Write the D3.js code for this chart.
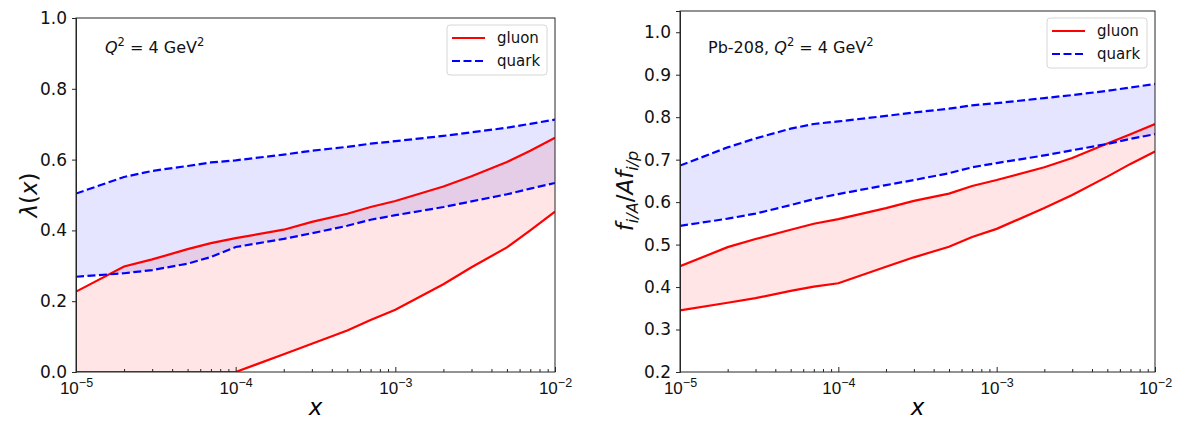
<!DOCTYPE html>
<html>
<head>
<meta charset="utf-8">
<script src="https://cdn.jsdelivr.net/npm/d3@7"></script>
<style>
	body { margin: 0; background: #fff; }
	svg { display: block; font-family: "DejaVu Sans", sans-serif; }
	.axis path, .axis line { stroke: #262626; stroke-width: 1; }
	.axis text { fill: #111; }
</style>
</head>
<body>
<script>
// x grid shared by every curve
const xGrid = [1e-5, 2e-5, 3e-5, 5e-5, 7e-5, 1e-4, 2e-4, 3e-4, 5e-4, 7e-4, 1e-3, 2e-3, 3e-3, 5e-3, 7e-3, 1e-2];

// left panel: lambda(x)
const lamQuarkUpper = [0.504, 0.551, 0.568, 0.582, 0.592, 0.598, 0.614, 0.625, 0.636, 0.645, 0.652, 0.667, 0.677, 0.690, 0.701, 0.713];
const lamQuarkLower = [0.269, 0.279, 0.288, 0.306, 0.325, 0.353, 0.376, 0.392, 0.413, 0.430, 0.443, 0.466, 0.482, 0.502, 0.518, 0.534];
const lamGluonUpper = [0.227, 0.298, 0.318, 0.347, 0.364, 0.378, 0.402, 0.424, 0.447, 0.466, 0.483, 0.524, 0.553, 0.593, 0.625, 0.662];
const lamGluonLower = [0, 0, 0, 0, 0, 0, 0.050, 0.080, 0.117, 0.147, 0.176, 0.248, 0.296, 0.352, 0.400, 0.453];

// right panel: Pb-208 ratio
const pbQuarkUpper = [0.686, 0.729, 0.750, 0.773, 0.784, 0.790, 0.803, 0.811, 0.820, 0.828, 0.833, 0.845, 0.852, 0.862, 0.870, 0.878];
const pbQuarkLower = [0.544, 0.561, 0.573, 0.593, 0.607, 0.619, 0.640, 0.652, 0.668, 0.682, 0.692, 0.710, 0.722, 0.737, 0.749, 0.760];
const pbGluonUpper = [0.449, 0.494, 0.513, 0.535, 0.549, 0.560, 0.586, 0.603, 0.620, 0.638, 0.652, 0.682, 0.704, 0.738, 0.760, 0.784];
const pbGluonLower = [0.345, 0.363, 0.374, 0.391, 0.401, 0.409, 0.448, 0.470, 0.495, 0.518, 0.537, 0.586, 0.617, 0.660, 0.690, 0.719];

const xMajor = [1e-5, 1e-4, 1e-3, 1e-2];
const xExp = ["5", "4", "3", "2"];
const lamTicks = [0, 0.2, 0.4, 0.6, 0.8, 1.0];
const pbTicks = [0.2, 0.3, 0.4, 0.5, 0.6, 0.7, 0.8, 0.9, 1.0];
const legendLabels = ["gluon", "quark"];

const svg = d3.select("body").append("svg")
	.attr("width", 1177)
	.attr("height", 421);

function panel(opts) {
	let x = d3.scaleLog().domain([1e-5, 1e-2]).range([opts.left, opts.right]);
	let y = d3.scaleLinear().domain(opts.yDomain).range([opts.bottom, opts.top]);

	let clipId = "clip-" + opts.id;
	svg.append("clipPath").attr("id", clipId)
		.append("rect")
			.attr("x", opts.left).attr("y", opts.top)
			.attr("width", opts.right - opts.left).attr("height", opts.bottom - opts.top);

	let g = svg.append("g").attr("clip-path", `url(#${clipId})`);

	let band = (lo, hi) => d3.area()
		.x((d, i) => x(xGrid[i]))
		.y0((d, i) => y(lo[i]))
		.y1((d, i) => y(hi[i]))(xGrid);

	let line = vals => d3.line()
		.x((d, i) => x(xGrid[i]))
		.y((d, i) => y(vals[i]))(xGrid);

	g.append("path").attr("d", band(opts.gluon[0], opts.gluon[1]))
		.attr("fill", "#ff0000").attr("fill-opacity", 0.1);
	g.append("path").attr("d", band(opts.quark[0], opts.quark[1]))
		.attr("fill", "#0000ff").attr("fill-opacity", 0.1);

	opts.gluon.forEach(vals => {
		g.append("path").attr("d", line(vals))
			.attr("fill", "none").attr("stroke", "#ff0000").attr("stroke-width", 2.2);
	});
	opts.quark.forEach(vals => {
		g.append("path").attr("d", line(vals))
			.attr("fill", "none").attr("stroke", "#0000ff").attr("stroke-width", 2.2)
			.attr("stroke-dasharray", "8,3.5");
	});

	// frame
	svg.append("rect")
		.attr("x", opts.left).attr("y", opts.top)
		.attr("width", opts.right - opts.left).attr("height", opts.bottom - opts.top)
		.attr("fill", "none").attr("stroke", "#262626").attr("stroke-width", 1);

	// y axis
	svg.append("g")
		.attr("class", "axis y")
		.attr("transform", `translate(${opts.left},0)`)
		.call(d3.axisLeft(y).tickValues(opts.yTicks).tickSize(4).tickPadding(5).tickFormat(d3.format(".1f")))
		.call(s => s.selectAll("text").attr("font-size", 17).attr("font-family", "DejaVu Sans"));

	// x axis minor ticks (inside)
	let minors = [];
	for (let e = -5; e < -2; e++) {
		for (let m = 2; m < 10; m++) minors.push(m * Math.pow(10, e));
	}
	svg.append("g")
		.attr("class", "axis x minor")
		.attr("transform", `translate(0,${opts.bottom})`)
		.call(d3.axisBottom(x).tickValues(minors).tickSize(-3).tickFormat(() => ""))
		.call(s => s.select(".domain").remove());

	let xa = svg.append("g")
		.attr("class", "axis x")
		.attr("transform", `translate(0,${opts.bottom})`)
		.call(d3.axisBottom(x).tickValues(xMajor).tickSize(-5).tickFormat(() => ""));
	xa.select(".domain").remove();

	xa.selectAll(".tick").each(function(d, i) {
		let t = d3.select(this).append("text")
			.attr("y", 22)
			.attr("font-size", 17)
			.attr("text-anchor", "middle")
			.attr("fill", "#111");
		t.append("tspan").text("10");
		t.append("tspan").attr("dy", -7).attr("font-size", 12.5).text("\u2212" + xExp[i]);
	});

	// x label
	svg.append("text")
		.attr("x", (opts.left + opts.right) / 2)
		.attr("y", 415)
		.attr("text-anchor", "middle")
		.attr("font-size", 23)
		.attr("font-style", "italic")
		.text("x");

	// annotation
	let ann = svg.append("text")
		.attr("x", opts.annX).attr("y", 53)
		.attr("font-size", 16)
		.attr("fill", "#111");
	if (opts.prefix) ann.append("tspan").text(opts.prefix);
	ann.append("tspan").attr("font-style", "italic").text("Q");
	ann.append("tspan").attr("dy", -7).attr("font-size", 11.5).text("2");
	ann.append("tspan").attr("dy", 7).text(" = 4 GeV");
	ann.append("tspan").attr("dy", -7).attr("font-size", 11.5).text("2");

	// legend
	let lx = opts.right - 108, ly = opts.top + 7;
	let lg = svg.append("g").attr("transform", `translate(${lx},${ly})`);
	lg.append("rect")
		.attr("width", 100).attr("height", 50)
		.attr("rx", 3)
		.attr("fill", "#fff").attr("fill-opacity", 0.8)
		.attr("stroke", "#d6d6d6");
	legendLabels.forEach((name, i) => {
		let yy = 13 + i * 23;
		lg.append("line")
			.attr("x1", 5).attr("x2", 38).attr("y1", yy).attr("y2", yy)
			.attr("stroke", i === 0 ? "#ff0000" : "#0000ff")
			.attr("stroke-width", 2.2)
			.attr("stroke-dasharray", i === 0 ? null : "8,3.5");
		lg.append("text")
			.attr("x", 50).attr("y", yy + 5)
			.attr("font-size", 15)
			.attr("fill", "#111")
			.text(name);
	});

	opts.ylabel();
}

panel({
	id: "lam", left: 76, right: 555, top: 18, bottom: 372,
	yDomain: [0, 1], yTicks: lamTicks,
	gluon: [lamGluonLower, lamGluonUpper],
	quark: [lamQuarkLower, lamQuarkUpper],
	annX: 105, prefix: null,
	ylabel: () => {
		svg.append("text")
			.attr("transform", "translate(37,195) rotate(-90)")
			.attr("text-anchor", "middle")
			.attr("font-size", 23)
			.attr("fill", "#111")
			.call(t => {
				t.append("tspan").attr("font-style", "italic").text("\u03bb");
				t.append("tspan").text("(");
				t.append("tspan").attr("font-style", "italic").text("x");
				t.append("tspan").text(")");
			});
	}
});

panel({
	id: "pb", left: 680, right: 1155, top: 11, bottom: 372,
	yDomain: [0.2, 1.05], yTicks: pbTicks,
	gluon: [pbGluonLower, pbGluonUpper],
	quark: [pbQuarkLower, pbQuarkUpper],
	annX: 708, prefix: "Pb-208, ",
	ylabel: () => {
		svg.append("text")
			.attr("transform", "translate(633,191) rotate(-90)")
			.attr("text-anchor", "middle")
			.attr("font-size", 23)
			.attr("fill", "#111")
			.attr("font-style", "italic")
			.call(t => {
				t.append("tspan").text("f");
				t.append("tspan").attr("dy", 5).attr("font-size", 16).text("i/A");
				t.append("tspan").attr("dy", -5).attr("font-style", "normal").text("/");
				t.append("tspan").text("Af");
				t.append("tspan").attr("dy", 5).attr("font-size", 16).text("i/p");
			});
	}
});
</script>
</body>
</html>
